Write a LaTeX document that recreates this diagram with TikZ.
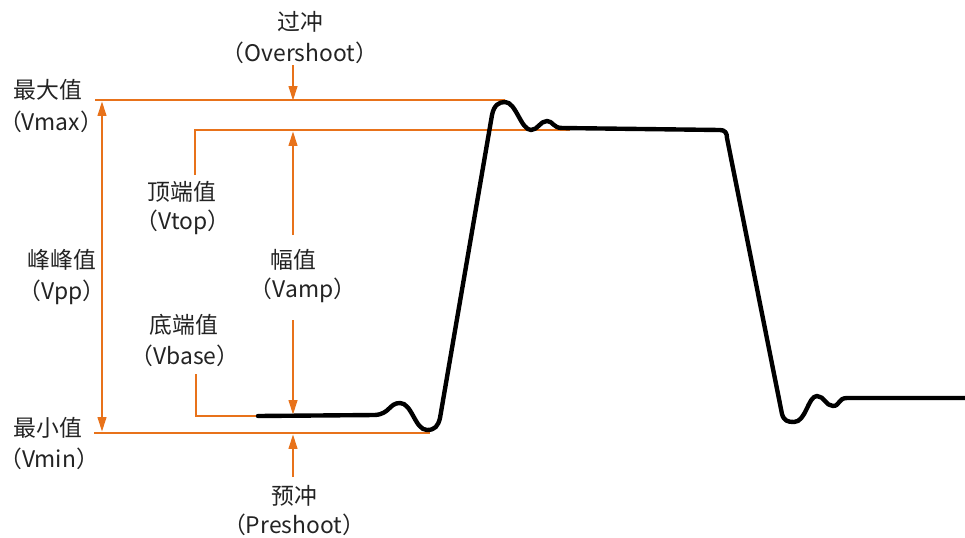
\documentclass[tikz,border=0pt]{standalone}
\usepackage{fontspec}
\setmainfont{Noto Sans CJK SC}
\usepackage{tikz}
\usetikzlibrary{arrows.meta,positioning}
\usepackage{xcolor}
\definecolor{lvlorange}{RGB}{232,114,26}
\definecolor{lblgray}{RGB}{35,35,35}

\begin{document}
\begin{tikzpicture}[x=0.02cm,y=-0.02cm,
  level/.style={draw=lvlorange,line width=1.5pt},
  lvlarrow/.style={level,-{Triangle[length=8.5pt,width=4.8pt]}},
  lbl/.style={text=lblgray,font=\fontsize{13}{15}\selectfont,inner sep=0pt,align=center},
  wave/.style={draw=black,line width=2.5pt,line join=round,line cap=round}]
  \useasboundingbox (0,0) rectangle (965,538);

  % labels
  \node[lbl] (ovs) at (300,22) {过冲};
  \node[lbl] (ovsE) at (300,53) {（Overshoot）};
  \node[lbl] (vmax) at (48,90) {最大值};
  \node[lbl] (vmaxE) at (51,122) {（Vmax）};
  \node[lbl] (vtop) at (182,192) {顶端值};
  \node[lbl] (vtopE) at (183,222) {（Vtop）};
  \node[lbl] (vpp) at (62,260) {峰峰值};
  \node[lbl] (vppE) at (62,292) {（Vpp）};
  \node[lbl] (vamp) at (293,260) {幅值};
  \node[lbl] (vampE) at (303,290) {（Vamp）};
  \node[lbl] (vbase) at (184,325) {底端值};
  \node[lbl] (vbaseE) at (185,356) {（Vbase）};
  \node[lbl] (vmin) at (48,428) {最小值};
  \node[lbl] (vminE) at (49,459) {（Vmin）};
  \node[lbl] (pre) at (294,496) {预冲};
  \node[lbl] (preE) at (294,525) {（Preshoot）};

  % levels
  \coordinate (maxL) at (95,100);
  \coordinate (maxR) at (505,100);
  \coordinate (topL) at (195,130);
  \coordinate (topR) at (570,130);
  \coordinate (topD) at (195,175);
  \coordinate (baseU) at (196,374);
  \coordinate (baseL) at (196,416);
  \coordinate (baseR) at (260,416);
  \coordinate (minL) at (94,433);
  \coordinate (minR) at (430,433);

  \draw[level] (maxL) -- (maxR);
  \draw[level] (topD) -- (topL) -- (topR);
  \draw[level] (baseU) -- (baseL) -- (baseR);
  \draw[level] (minL) -- (minR);

  % arrows
  \coordinate (ppT) at (102,101);
  \coordinate (ppB) at (102,432);
  \draw[lvlarrow,{Triangle[length=8.5pt,width=4.8pt]}-{Triangle[length=8.5pt,width=4.8pt]}] (ppT) -- (ppB);
  \coordinate (ovsA) at (293,65);
  \coordinate (ovsB) at (293,101);
  \draw[lvlarrow] (ovsA) -- (ovsB);
  \coordinate (ampA) at (293,235);
  \coordinate (ampB) at (293,131);
  \draw[lvlarrow] (ampA) -- (ampB);
  \coordinate (ampC) at (293,320);
  \coordinate (ampD) at (293,415);
  \draw[lvlarrow] (ampC) -- (ampD);
  \coordinate (preA) at (293,477);
  \coordinate (preB) at (293,434);
  \draw[lvlarrow] (preA) -- (preB);

  % waveform
  \draw[wave] (258,416) -- (375,415)
    .. controls (390,414) and (389,403) .. (400,403)
    .. controls (412,403) and (415,430) .. (427,430)
    .. controls (435,430) and (438,426) .. (440,418)
    -- (492,115)
    .. controls (494,105) and (499,102) .. (505,102)
    .. controls (516,102) and (521,130) .. (531,130)
    .. controls (538,130) and (540,121) .. (547,121)
    .. controls (553,121) and (553,128) .. (562,128)
    -- (720,130)
    .. controls (725,130) and (727,133) .. (727,138)
    -- (782,414)
    .. controls (784,421) and (788,422) .. (794,422)
    .. controls (806,422) and (808,396) .. (817,396)
    .. controls (824,396) and (826,406) .. (833,406)
    .. controls (840,406) and (838,398) .. (847,398)
    -- (965,398);
\end{tikzpicture}
\end{document}
